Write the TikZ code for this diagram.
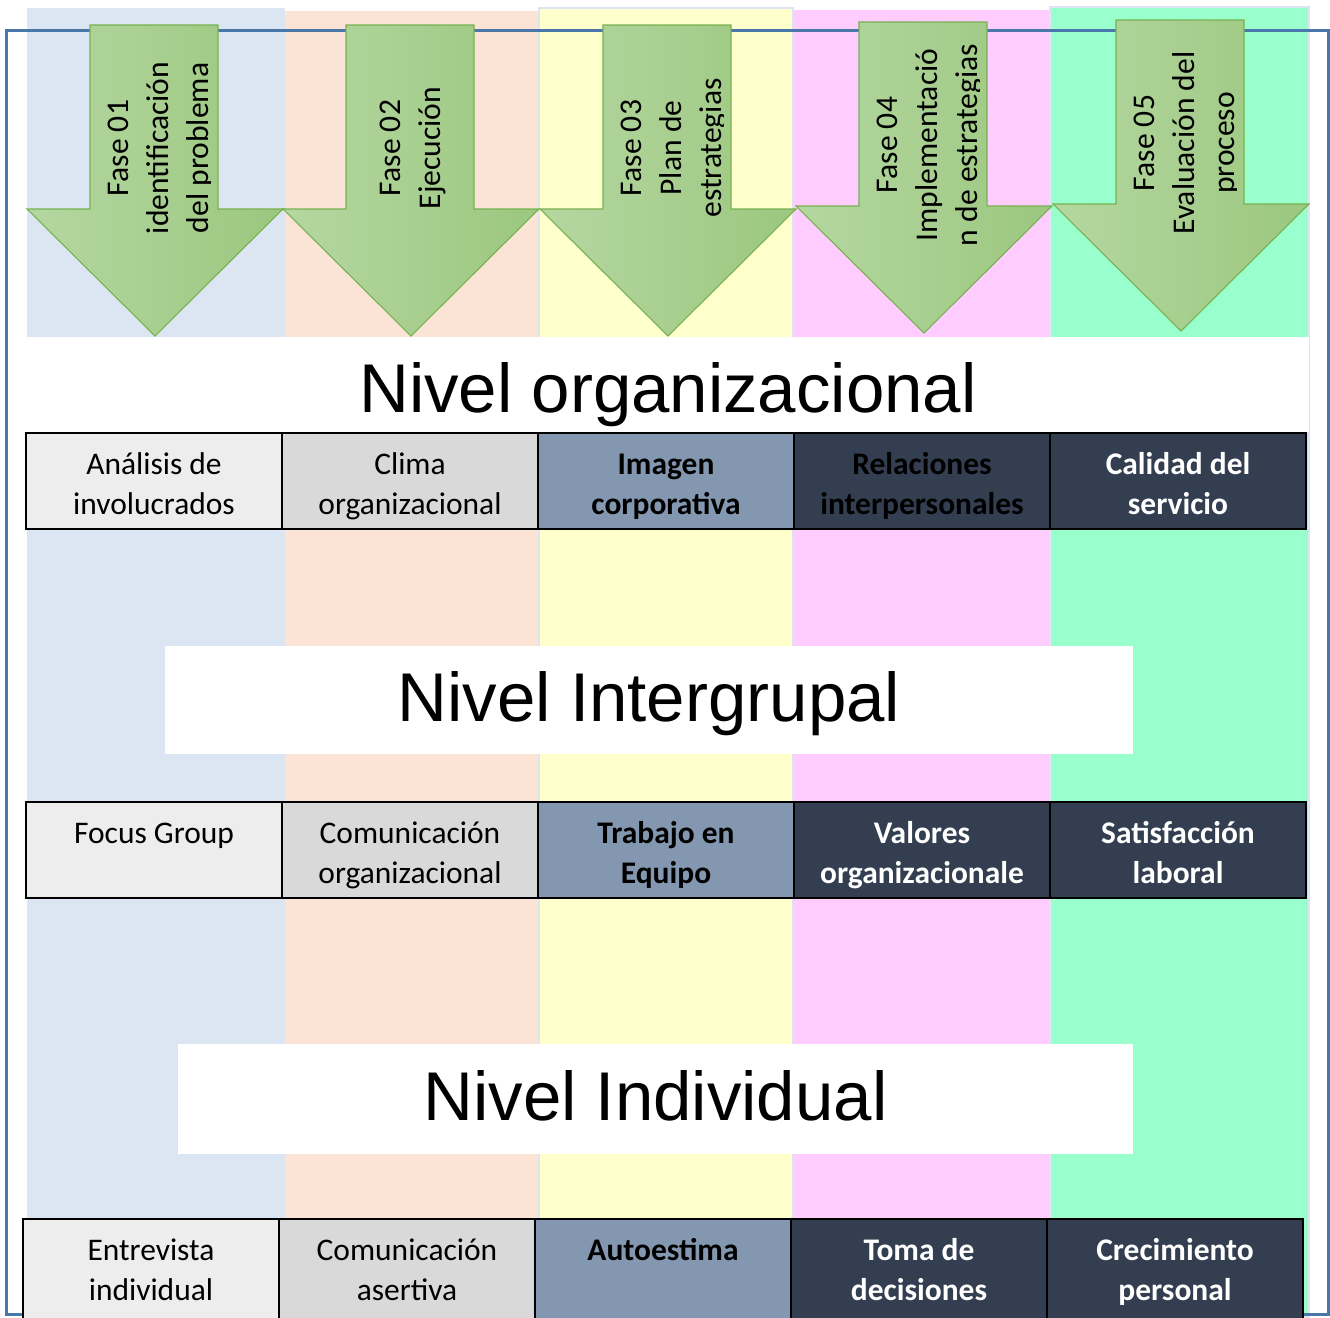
\documentclass[tikz,border=0pt]{standalone}
\usepackage{fontspec}
\setmainfont{Carlito}
\newfontfamily\headfont{Liberation Sans}
\usepackage{xcolor}
\usetikzlibrary{positioning}
\definecolor{colA}{HTML}{DCE6F2}
\definecolor{colB}{HTML}{FBE4D6}
\definecolor{colC}{HTML}{FFFFCC}
\definecolor{colD}{HTML}{FFCCFF}
\definecolor{colE}{HTML}{99FFCC}
\definecolor{frameblue}{HTML}{4A77AA}
\definecolor{arrowL}{HTML}{B5D7A1}
\definecolor{arrowR}{HTML}{9BC77F}
\definecolor{arrowline}{HTML}{77B150}
\definecolor{greyA}{HTML}{EDEDED}
\definecolor{greyB}{HTML}{D9D9D9}
\definecolor{slate}{HTML}{8497B0}
\definecolor{navy}{HTML}{333F50}

\begin{document}
\begin{tikzpicture}[x=0.75pt,y=-0.75pt,
fasearrow/.style={draw=arrowline,line width=0.8pt,left color=arrowL,right color=arrowR},
fasetext/.style={rotate=90,align=center,inner sep=0pt,font=\fontsize{23.7}{30}\selectfont},
head/.style={fill=white,inner sep=0pt,anchor=base,font=\headfont\fontsize{51.75}{60}\selectfont},
box/.style={draw=black,line width=0.8pt,outer sep=0pt,inner sep=0pt,minimum width=192pt,minimum height=72pt,text height=49.5pt,text depth=0pt,align=center,font=\fontsize{23.6}{29.3}\selectfont},
lastrow/.style={minimum height=78pt,text height=43.5pt},
boxA/.style={box,fill=greyA},
boxB/.style={box,fill=greyB},
boxC/.style={box,fill=slate,font=\fontsize{23.6}{29.3}\selectfont\bfseries},
boxD/.style={box,fill=navy,text=white,font=\fontsize{23.6}{29.3}\selectfont\bfseries}]
\useasboundingbox (0,0) rectangle (1330,1317);
% column backgrounds
\fill[colA] (27,8) rectangle (285,1317);
\fill[colB] (285,11) rectangle (539,1317);
\fill[colC,draw=colA,line width=1.2pt] (539,8) rectangle (793,1317);
\fill[colD] (793,10) rectangle (1050,1317);
\fill[colE,draw=colA,line width=1.2pt] (1050,7) rectangle (1309,1317);
\draw[frameblue,line width=2.25pt] (6,30) rectangle (1328,1314);
% levels
\node[head,minimum width=961.5pt,text height=56.25pt,text depth=15pt] (orgband) at (668,412) {Nivel organizacional};
\node[head,minimum width=726pt,text height=56.25pt,text depth=24.75pt] (intergrupal) at (649,721) {Nivel Intergrupal};
\node[head,minimum width=716.25pt,text height=57pt,text depth=25.5pt] (individual) at (655.5,1120) {Nivel Individual};
% phases
\foreach \x/\y/\dx/\txt [count=\i] in {27/25/6/{Fase 01\\identificación\\del problema},283/25/2/{Fase 02\\Ejecución},540/25/6/{Fase 03\\Plan de\\estrategias},796/22/6/{Fase 04\\Implementació\\n de estrategias},1053/20/6/{Fase 05\\Evaluación del\\proceso}}{
  \draw[fasearrow] (\x,\y+184) -- (\x+63,\y+184) -- (\x+63,\y) -- (\x+191,\y) -- (\x+191,\y+184) -- (\x+256,\y+184) -- (\x+128,\y+311) -- cycle;
  \begin{scope}
    \clip (\x+63,\y) rectangle (\x+183,\y+311);
    \node[fasetext] (fase\i) at (\x+128+\dx,\y+123) {\txt};
  \end{scope}
}
% organizational row
\node[boxA,anchor=north west] (analisis) at (26,433) {Análisis de\\involucrados};
\node[boxB,right=0pt of analisis] (clima) {Clima\\organizacional};
\node[boxC,right=0pt of clima] (imagen) {Imagen\\corporativa};
\node[boxD,text=black,right=0pt of imagen] (relaciones) {Relaciones\\interpersonales};
\node[boxD,right=0pt of relaciones] (calidad) {Calidad del\\servicio};
% intergroup row
\node[boxA,anchor=north west] (focus) at (26,802) {Focus Group\\~};
\node[boxB,right=0pt of focus] (comorg) {Comunicación\\organizacional};
\node[boxC,right=0pt of comorg] (trabajo) {Trabajo en\\Equipo};
\node[boxD,right=0pt of trabajo] (valores) {Valores\\organizacionale};
\node[boxD,right=0pt of valores] (satisfaccion) {Satisfacción\\laboral};
% individual row
\node[boxA,lastrow,anchor=north west] (entrevista) at (23,1219) {Entrevista\\individual};
\node[boxB,lastrow,right=0pt of entrevista] (asertiva) {Comunicación\\asertiva};
\node[boxC,lastrow,right=0pt of asertiva] (autoestima) {Autoestima\\~};
\node[boxD,lastrow,right=0pt of autoestima] (toma) {Toma de\\decisiones};
\node[boxD,lastrow,right=0pt of toma] (crecimiento) {Crecimiento\\personal};
\end{tikzpicture}
\end{document}
